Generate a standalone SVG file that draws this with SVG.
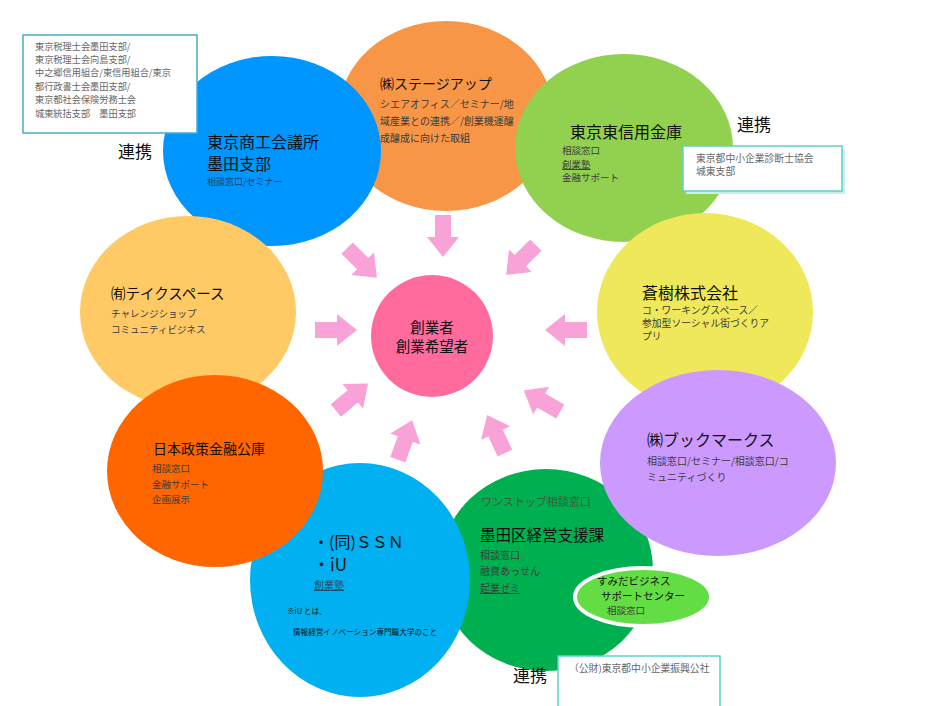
<svg xmlns="http://www.w3.org/2000/svg" xmlns:xlink="http://www.w3.org/1999/xlink" width="932" height="706" viewBox="0 0 932 706">
<style>
text{font-family:"Noto Sans CJK JP","Noto Sans",sans-serif;}
.t{fill:#111;}
.s{fill:#3c3c3c;}
.b{fill:#666;}
.box{fill:#fff;stroke-width:1.5;}
.arr{fill:#F8A2D8;}
</style>
<defs>
<path id="ar" d="M-21,-8 L1,-8 L1,-16 L21,0 L1,16 L1,8 L-21,8 Z"/>
</defs>
<rect width="932" height="706" fill="#fff"/>

<g id="stageup">
<ellipse cx="446" cy="116" rx="108" ry="95" fill="#F79646"/>
<text class="t" x="380" y="89" font-size="14">㈱ステージアップ</text>
<text class="s" x="380" y="108" font-size="10">シエアオフィス／セミナー/地</text>
<text class="s" x="380" y="125" font-size="10">域産業との連携／/創業機運醸</text>
<text class="s" x="380" y="142" font-size="10">成醸成に向けた取組</text>
</g>

<g id="shoko">
<ellipse cx="272" cy="151" rx="109" ry="95" fill="#0096FF"/>
<text class="t" x="207" y="148" font-size="16">東京商工会議所</text>
<text class="t" x="207" y="170" font-size="16">墨田支部</text>
<text x="207" y="185" font-size="9" style="fill:#1f3f6a">相談窓口/セミナー</text>
</g>

<g id="higashishin">
<ellipse cx="624" cy="148" rx="109" ry="94" fill="#92D050"/>
<text class="t" x="570" y="138" font-size="16">東京東信用金庫</text>
<text class="s" x="562" y="154" font-size="9.5">相談窓口</text>
<text class="s" x="562" y="168" font-size="9.5" text-decoration="underline">創業塾</text>
<text class="s" x="562" y="181" font-size="9.5">金融サポート</text>
</g>

<g id="takespace">
<ellipse cx="188" cy="312" rx="108" ry="96" fill="#FFC966"/>
<text class="t" x="111" y="299" font-size="14.5">㈲テイクスペース</text>
<text class="s" x="111" y="317" font-size="9.5">チャレンジショップ</text>
<text class="s" x="111" y="333" font-size="9.5">コミュニティビジネス</text>
</g>

<g id="soju">
<ellipse cx="705" cy="312" rx="108" ry="99" fill="#EEE85A"/>
<text class="t" x="642" y="299" font-size="16">蒼樹株式会社</text>
<text class="s" x="642" y="314" font-size="9.8">コ・ワーキングスペース／</text>
<text class="s" x="642" y="327" font-size="9.8">参加型ソーシャル街づくりア</text>
<text class="s" x="642" y="340" font-size="9.8">プリ</text>
</g>

<g id="sumidaku">
<ellipse cx="546" cy="570" rx="107" ry="101" fill="#00B050"/>
<text x="481" y="506" font-size="11" style="fill:#3f5a3f">ワンストップ相談窓口</text>
<text class="t" x="480" y="541" font-size="15.5">墨田区経営支援課</text>
<text class="s" x="480" y="559" font-size="10">相談窓口</text>
<text class="s" x="480" y="575" font-size="10">融資あっせん</text>
<text class="s" x="480" y="592" font-size="10" text-decoration="underline">起業ゼミ</text>
</g>

<g id="ssn">
<ellipse cx="360" cy="580" rx="110" ry="117" fill="#00B0F0"/>
<text class="t" x="313" y="548" font-size="16">・(同)ＳＳＮ</text>
<text class="t" x="313" y="571" font-size="17">・iU</text>
<text x="314" y="589" font-size="10" style="fill:#2a4a66" text-decoration="underline">創業塾</text>
<text class="t" x="287" y="614" font-size="7.6">※iU とは、</text>
<text class="t" x="293" y="635" font-size="7.6">情報経営イノベーション専門職大学のこと</text>
</g>

<g id="jfc">
<ellipse cx="215" cy="471" rx="108" ry="96" fill="#FF6600"/>
<text class="t" x="153" y="454" font-size="14">日本政策金融公庫</text>
<text class="s" x="152" y="472" font-size="9.5">相談窓口</text>
<text class="s" x="152" y="488" font-size="9.5">金融サポート</text>
<text class="s" x="152" y="503" font-size="9.5">企画展示</text>
</g>

<g id="bookmarks">
<ellipse cx="718" cy="463" rx="118" ry="93" fill="#CC99FF"/>
<text class="t" x="647" y="446" font-size="16">㈱ブックマークス</text>
<text class="s" x="647" y="465" font-size="10">相談窓口/セミナー/相談窓口/コ</text>
<text class="s" x="647" y="481" font-size="10">ミュニティづくり</text>
</g>

<g id="sbsc">
<ellipse cx="643" cy="597" rx="68" ry="29" fill="#62DD44" stroke="#fff" stroke-width="4"/>
<text class="t" x="597" y="585" font-size="10.5">すみだビジネス</text>
<text class="t" x="601" y="600" font-size="10.5">サポートセンター</text>
<text class="s" x="607" y="614" font-size="9.5">相談窓口</text>
</g>

<g id="center">
<circle cx="432" cy="336" r="61" fill="#FF6B9D"/>
<text class="t" x="432" y="333" font-size="14.5" text-anchor="middle">創業者</text>
<text class="t" x="432" y="352" font-size="14.5" text-anchor="middle">創業希望者</text>
</g>

<g id="connectors">
<use xlink:href="#ar" class="arr" transform="translate(443,236) rotate(90)"/>
<use xlink:href="#ar" class="arr" transform="translate(362,263) rotate(45)"/>
<use xlink:href="#ar" class="arr" transform="translate(521,260) rotate(135)"/>
<use xlink:href="#ar" class="arr" transform="translate(336,330)"/>
<use xlink:href="#ar" class="arr" transform="translate(566,330) rotate(180)"/>
<use xlink:href="#ar" class="arr" transform="translate(352,397) rotate(-40)"/>
<use xlink:href="#ar" class="arr" transform="translate(405,440) rotate(-70)"/>
<use xlink:href="#ar" class="arr" transform="translate(496,434) rotate(-115)"/>
<use xlink:href="#ar" class="arr" transform="translate(542,401) rotate(-150)"/>
</g>

<g id="box-tax">
<rect class="box" x="23" y="35" width="174" height="98" stroke="#4BACC6"/>
<text class="b" x="35" y="49.5" font-size="9.2">東京税理士会墨田支部/</text>
<text class="b" x="35" y="62.9" font-size="9.2">東京税理士会向島支部/</text>
<text class="b" x="35" y="76.3" font-size="9.2">中之郷信用組合/東信用組合/東京</text>
<text class="b" x="35" y="89.7" font-size="9.2">都行政書士会墨田支部/</text>
<text class="b" x="35" y="103.1" font-size="9.2">東京都社会保険労務士会</text>
<text class="b" x="35" y="116.5" font-size="9.2">城東統括支部　墨田支部</text>
</g>

<g id="box-shindanshi">
<rect x="686" y="149" width="159" height="45" fill="#c8eeee"/>
<rect class="box" x="683" y="146" width="159" height="45" stroke="#5CD1C8"/>
<text class="b" x="696" y="162" font-size="9.8">東京都中小企業診断士協会</text>
<text class="b" x="696" y="175" font-size="9.8">城東支部</text>
</g>

<g id="box-kosha">
<rect class="box" x="558" y="656" width="162" height="52" stroke="#5CD1C8"/>
<text class="b" x="569" y="672" font-size="9.8">（公財)東京都中小企業振興公社</text>
</g>

<g id="labels">
<text class="t" x="118" y="158" font-size="17">連携</text>
<text class="t" x="737" y="131" font-size="17">連携</text>
<text class="t" x="513" y="682" font-size="17">連携</text>
</g>
</svg>
